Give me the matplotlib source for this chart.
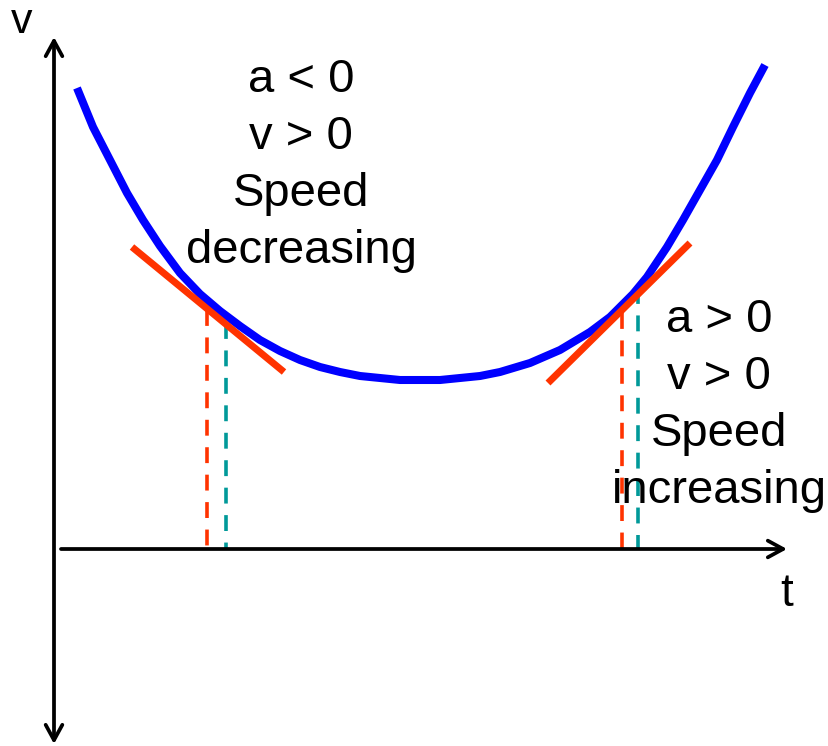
import matplotlib
matplotlib.use('Agg')
import matplotlib.pyplot as plt

plt.rcParams['font.family'] = ['Liberation Sans', 'DejaVu Sans']

# velocity curve, read in pixel units (y grows downwards)
t_curve = [77, 93, 110, 127, 143, 160, 180, 200, 220, 240, 260, 280, 300, 320, 340, 360, 380, 400,
           420, 440, 460, 480, 500, 530, 560, 590, 610, 633, 647, 667, 683, 700, 717, 733, 750, 765]
v_curve = [88, 127, 160, 193, 220, 246, 273, 294, 311, 326, 340, 351, 360, 367, 372, 376, 378, 380,
           380, 380, 378, 376, 372, 363, 350, 332, 317, 294, 277, 247, 220, 190, 160, 127, 93, 65]

# tangent segments (start, end)
tan_left_t = [132, 284]
tan_left_v = [247, 372]
tan_right_t = [548, 690]
tan_right_v = [383, 243]

# dashed drop lines: x position and top y
drop_red_t = [207, 622]
drop_red_top = [310, 313]
drop_teal_t = [226, 638]
drop_teal_top = [323, 288]
t_axis_y = 549

left_lines = ['a < 0', 'v > 0', 'Speed', 'decreasing']
right_lines = ['a > 0', 'v > 0', 'Speed', 'increasing']

fig = plt.figure(figsize=(8.29, 7.46), dpi=100)
ax = fig.add_axes([0, 0, 1, 1])
ax.set_xlim(0, 829)
ax.set_ylim(746, 0)
ax.axis('off')

# axes arrows
ax.annotate('', xy=(54, 37), xytext=(54, 744),
            arrowprops=dict(arrowstyle='<->,head_length=1.1,head_width=0.6', lw=2.7, color='black',
                            shrinkA=0, shrinkB=0))
ax.annotate('', xy=(787, t_axis_y), xytext=(61, t_axis_y),
            arrowprops=dict(arrowstyle='->,head_length=1.1,head_width=0.6', lw=2.7, color='black',
                            shrinkA=0, shrinkB=0))
ax.text(22, 22, 'v', fontsize=31, ha='center', va='center')
ax.text(787, 594, 't', fontsize=33, ha='center', va='center')

# drop lines
for x, top in zip(drop_red_t, drop_red_top):
    ax.plot([x, x], [top, t_axis_y], color='#ff3300', lw=2.6, dashes=(4.4, 3.2))
for x, top in zip(drop_teal_t, drop_teal_top):
    ax.plot([x, x], [top, t_axis_y], color='#009999', lw=2.6, dashes=(4.4, 3.2))

# curve and tangents
ax.plot(t_curve, v_curve, color='#0000ff', lw=5.8, solid_joinstyle='round', solid_capstyle='butt')
ax.plot(tan_left_t, tan_left_v, color='#ff3300', lw=5.0, solid_capstyle='butt')
ax.plot(tan_right_t, tan_right_v, color='#ff3300', lw=5.0, solid_capstyle='butt')

for i, s in enumerate(left_lines):
    ax.text(301, 80 + 57 * i, s, fontsize=34, ha='center', va='center')
for i, s in enumerate(right_lines):
    ax.text(719, 320 + 57 * i, s, fontsize=34, ha='center', va='center')

fig.savefig('out.png', dpi=100)
